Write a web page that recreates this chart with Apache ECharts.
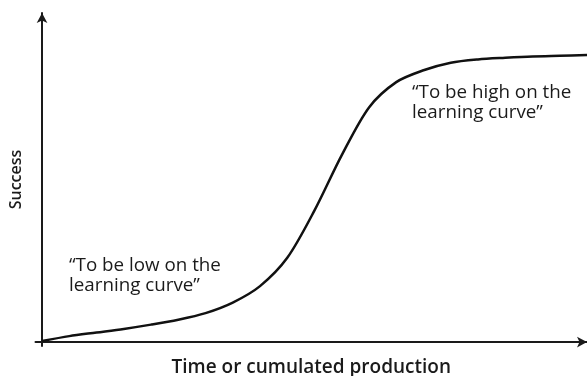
<!DOCTYPE html>
<html>
<head>
<meta charset="utf-8">
<title>Learning curve</title>
<script src="https://cdn.jsdelivr.net/npm/echarts@6/dist/echarts.min.js"></script>
<style>
  html, body { margin: 0; padding: 0; background: #fff; }
  #main { width: 587px; height: 376px; }
</style>
</head>
<body>
<div id="main"></div>
<script>
// time / cumulated production (0..100) and success (0..100)
var timeValues = [0, 5, 10, 15, 20, 25, 30, 35, 40, 45, 50, 55, 60, 65, 70, 75, 80, 85, 90, 95, 100];
var successValues = [0.3, 1.8, 2.9, 4.0, 5.3, 6.8, 8.8, 12.0, 17.0, 25.6, 40.0, 56.8, 71.3, 79.0, 82.6, 84.9, 85.9, 86.4, 86.8, 87.0, 87.2];
var xName = 'Time or cumulated production';
var yName = 'Success';
var lowText = '\u201cTo be low on the\nlearning curve\u201d';
var highText = '\u201cTo be high on the\nlearning curve\u201d';

var points = timeValues.map(function (t, i) { return [t, successValues[i]]; });

var chart = echarts.init(document.getElementById('main'));
var font = '"Open Sans", "Noto Sans", sans-serif';

chart.setOption({
    animation: false,
    grid: { left: 35.5, right: 0, top: 13, bottom: 30, outerBoundsMode: 'none', containLabel: false },
    xAxis: {
        type: 'value',
        min: -1.2,
        max: 100,
        name: xName,
        nameLocation: 'middle',
        nameGap: 12,
        nameTextStyle: { color: '#1a1a1a', fontSize: 19, fontWeight: 600, fontFamily: font, verticalAlign: 'top' },
        axisLine: {
            onZero: true,
            symbol: ['none', 'arrow'],
            symbolSize: [8, 10],
            lineStyle: { color: '#1a1a1a', width: 2 }
        },
        axisTick: { show: false },
        axisLabel: { show: false },
        splitLine: { show: false }
    },
    yAxis: {
        type: 'value',
        min: -1.2,
        max: 100,
        name: yName,
        nameLocation: 'middle',
        nameGap: 11,
        nameRotate: 90,
        nameTextStyle: { color: '#1a1a1a', fontSize: 16, fontWeight: 600, fontFamily: font },
        axisLine: {
            onZero: true,
            symbol: ['none', 'arrow'],
            symbolSize: [8, 10],
            lineStyle: { color: '#1a1a1a', width: 2 }
        },
        axisTick: { show: false },
        axisLabel: { show: false },
        splitLine: { show: false }
    },
    series: [{
        type: 'line',
        data: points,
        smooth: 0.3,
        showSymbol: false,
        lineStyle: { color: '#111', width: 2.5 }
    }],
    graphic: [
        {
            type: 'text', left: 69, top: 256,
            style: { text: lowText, fill: '#1a1a1a', font: '18.8px ' + font, lineHeight: 20 }
        },
        {
            type: 'text', left: 412, top: 83,
            style: { text: highText, fill: '#1a1a1a', font: '18.8px ' + font, lineHeight: 20 }
        }
    ]
});
</script>
</body>
</html>
